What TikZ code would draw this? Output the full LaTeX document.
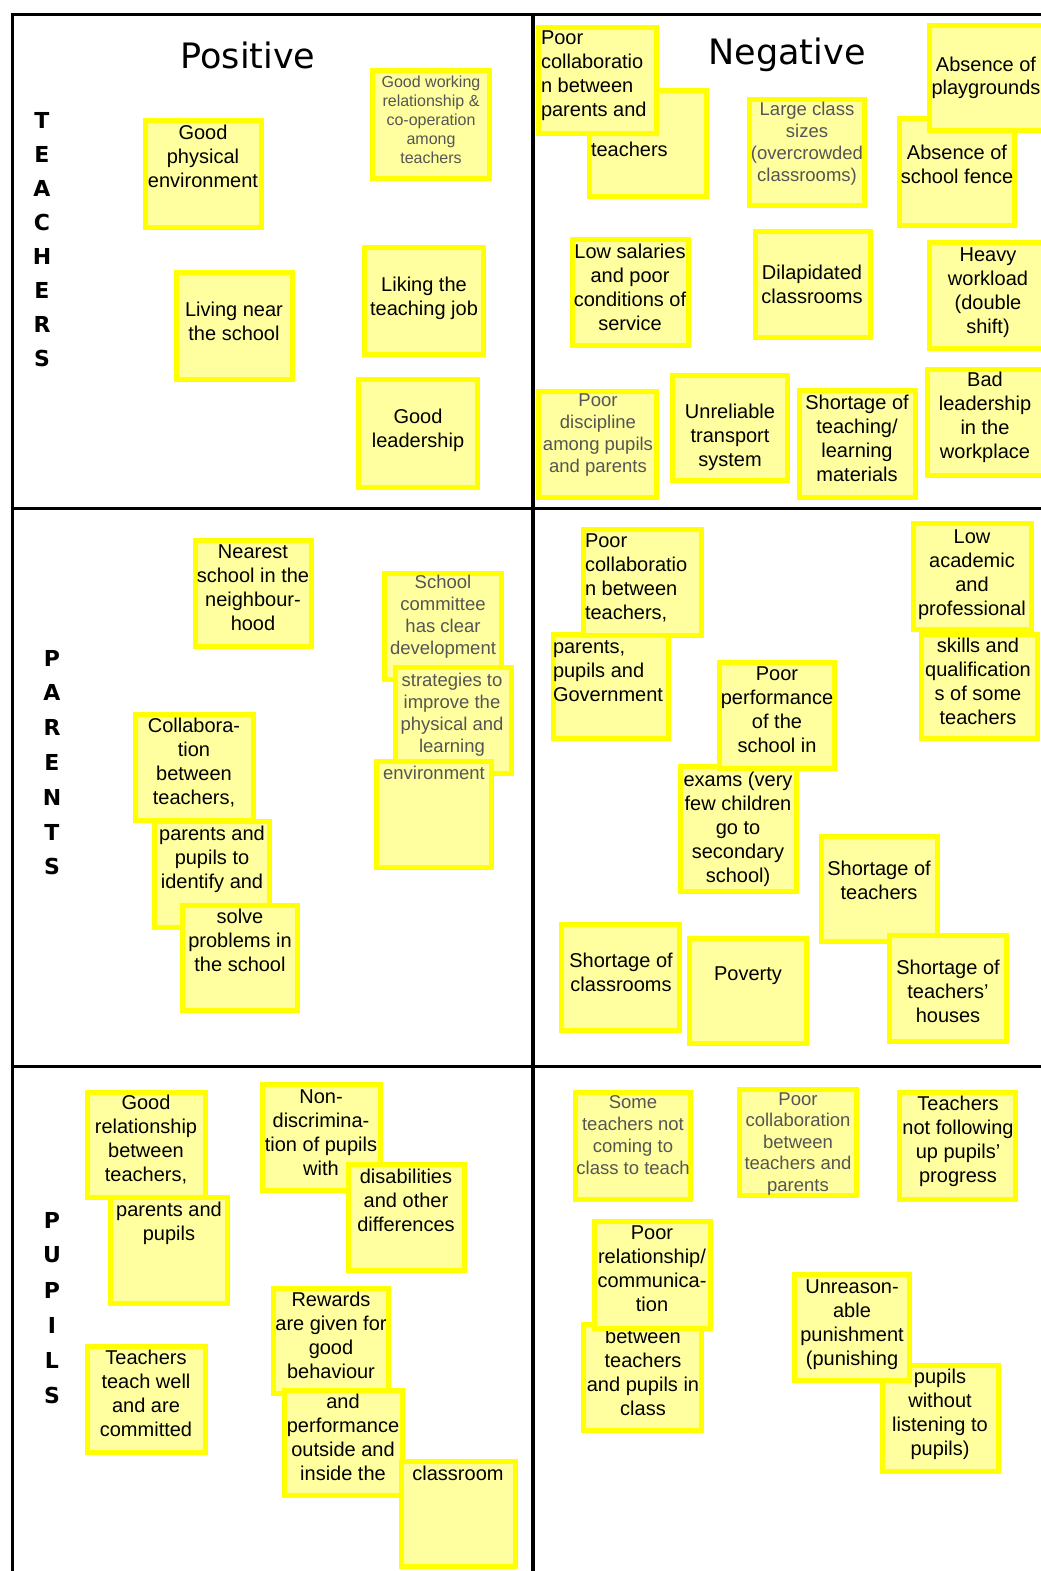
\documentclass[tikz,border=0pt]{standalone}
\usepackage{fontspec}
\setmainfont{Liberation Sans}
\newfontfamily\headfont{DejaVu Sans}

\definecolor{notefill}{RGB}{255,255,160}
\definecolor{noteedge}{RGB}{255,255,0}
\definecolor{faintink}{RGB}{85,85,85}

\tikzset{
  grid line/.style={line width=3pt, black},
  notebox/.style={draw=noteedge, fill=notefill, line width=5pt,
    inner sep=0pt, outer sep=0pt, anchor=north west},
  ntxt/.style={inner sep=0pt, outer sep=0pt, anchor=base, yshift=-6pt,
    font=\fontsize{20}{24}\selectfont},
  nleft/.style={anchor=base west},
  faint/.style={text=faintink, font=\fontsize{18.5}{22}\selectfont},
  title/.style={font=\headfont\fontsize{35}{40}\selectfont, anchor=base, inner sep=0pt},
  sideletter/.style={font=\headfont\bfseries\fontsize{22}{24}\selectfont, inner sep=0pt},
}

% sticky note: name, left, top, right, bottom (outer edges of the yellow rim)
\newcommand\notebox[5]{%
  \node[notebox, minimum width={#4-#2-5}, minimum height={#5-#3-5}] (#1) at ({#2+2.5},{#3+2.5}) {};}
% centred note text: name, extra style, centre x, first line y, lines
\newcommand\ctext[5]{%
  \node[ntxt,#2] (#1) at (#3,#4) {\parbox[t]{190pt}{\centering #5}};}
% left-aligned note text: name, extra style, left x, first line y, lines
\newcommand\ltext[5]{%
  \node[ntxt,nleft,#2] (#1) at (#3,#4) {\parbox[t]{190pt}{\raggedright #5}};}

\begin{document}
\begin{tikzpicture}[x=1pt,y=-1pt]
\useasboundingbox (0,0) rectangle (1041,1571);
\fill[white] (0,0) rectangle (1041,1571);
\clip (0,0) rectangle (1041,1571);

% frame of the 3 x 2 grid
\draw[grid line] (10.5,15) -- (1041,15);
\draw[grid line] (12,15) -- (12,1571);
\draw[grid line, line width=3.5pt] (533,15) -- (533,1571);
\draw[grid line] (12,508) -- (1041,508);
\draw[grid line] (12,1066) -- (1041,1066);

% column headings
\node[title] (pos) at (248,68) {Positive};
\node[title] (neg) at (787,65) {Negative};

% row labels, written downwards
\foreach \c [count=\i] in {T,E,A,C,H,E,R,S}
  \node[sideletter] (tch\i) at (42,{120+34*(\i-1)}) {\c};
\foreach \c [count=\i] in {P,A,R,E,N,T,S}
  \node[sideletter] (par\i) at (52,{658+34.8*(\i-1)}) {\c};
\foreach \c [count=\i] in {P,U,P,I,L,S}
  \node[sideletter] (pup\i) at (52,{1220+35*(\i-1)}) {\c};

% ---------- teachers, positive
\notebox{gpe}{143}{118}{264}{230}
\ctext{gpe-t}{}{203}{133}{Good\\physical\\environment}
\notebox{gwr}{370}{68}{492}{181}
\ctext{gwr-t}{faint, font=\fontsize{16}{18.8}\selectfont}{431}{82}{Good working\\relationship \&\\co-operation\\among\\teachers}
\notebox{lns}{174}{270}{295}{382}
\ctext{lns-t}{}{234}{310}{Living near\\the school}
\notebox{ltj}{362}{245}{486}{357}
\ctext{ltj-t}{}{424}{285}{Liking the\\teaching job}
\notebox{gl}{356}{377}{480}{490}
\ctext{gl-t}{}{418}{417}{Good\\leadership}

% ---------- teachers, negative
\notebox{pcb}{587}{88}{709}{199}
\ltext{pcb-t}{}{591}{150}{teachers}
\notebox{pca}{536}{25}{659}{136}
\ltext{pca-t}{}{541}{39}{Poor\\collaboratio\\n between\\parents and}
\notebox{lcs}{747}{97}{867}{208}
\ctext{lcs-t}{faint}{807}{109}{Large class\\sizes\\(overcrowded\\classrooms)}
\notebox{asf}{897}{116}{1017}{228}
\ctext{asf-t}{}{957}{153}{Absence of\\school fence}
\notebox{apg}{927}{23}{1048}{133}
\ctext{apg-t}{}{986}{65}{Absence of\\playgrounds}
\notebox{lsp}{570}{237}{691}{348}
\ctext{lsp-t}{}{630}{252}{Low salaries\\and poor\\conditions of\\service}
\notebox{dil}{753}{229}{873}{340}
\ctext{dil-t}{}{812}{273}{Dilapidated\\classrooms}
\notebox{hw}{927}{240}{1048}{351}
\ctext{hw-t}{}{988}{255}{Heavy\\workload\\(double\\shift)}
\notebox{pd}{536}{389}{659}{500}
\ctext{pd-t}{faint}{598}{400}{Poor\\discipline\\among pupils\\and parents}
\notebox{utr}{670}{373}{790}{483}
\ctext{utr-t}{}{730}{412}{Unreliable\\transport\\system}
\notebox{stl}{797}{388}{918}{500}
\ctext{stl-t}{}{857}{403}{Shortage of\\teaching/\\learning\\materials}
\notebox{bl}{925}{367}{1048}{478}
\ctext{bl-t}{}{985}{380}{Bad\\leadership\\in the\\workplace}

% ---------- parents, positive
\notebox{nsn}{193}{538}{314}{649}
\ctext{nsn-t}{}{253}{552}{Nearest\\school in the\\neighbour-\\hood}
\notebox{scd}{382}{571}{504}{682}
\ctext{scd-t}{faint}{443}{582}{School\\committee\\has clear\\development}
\notebox{sti}{393}{665}{514}{776}
\ctext{sti-t}{faint}{452}{680}{strategies to\\improve the\\physical and\\learning}
\notebox{env}{374}{759}{494}{870}
\ctext{env-t}{faint}{434}{773}{environment}
\notebox{ppi}{152}{819}{272}{930}
\ctext{ppi-t}{}{212}{834}{parents and\\pupils to\\identify and}
\notebox{cbt}{133}{712}{256}{823}
\ctext{cbt-t}{}{194}{726}{Collabora-\\tion\\between\\teachers,}
\notebox{spi}{180}{903}{300}{1013}
\ctext{spi-t}{}{240}{917}{solve\\problems in\\the school}

% ---------- parents, negative
\notebox{pgb}{551}{632}{671}{741}
\ltext{pgb-t}{}{553}{647}{parents,\\pupils and\\Government}
\notebox{pga}{581}{527}{704}{638}
\ltext{pga-t}{}{585}{541}{Poor\\collaboratio\\n between\\teachers,}
\notebox{sq}{919}{632}{1040}{741}
\ctext{sq-t}{}{978}{646}{skills and\\qualification\\s of some\\teachers}
\notebox{lap}{911}{521}{1034}{632}
\ctext{lap-t}{}{972}{537}{Low\\academic\\and\\professional}
\notebox{exm}{678}{764}{799}{894}
\ctext{exm-t}{}{738}{780}{exams (very\\few children\\go to\\secondary\\school)}
\notebox{pps}{717}{660}{837}{771}
\ctext{pps-t}{}{777}{674}{Poor\\performance\\of the\\school in}
\notebox{sot}{819}{834}{940}{944}
\ctext{sot-t}{}{879}{869}{Shortage of\\teachers}
\notebox{sth}{887}{933}{1009}{1044}
\ctext{sth-t}{}{948}{968}{Shortage of\\teachers'\\houses}
\notebox{soc}{559}{922}{682}{1033}
\ctext{soc-t}{}{621}{961}{Shortage of\\classrooms}
\notebox{pov}{687}{936}{809}{1046}
\ctext{pov-t}{}{748}{974}{Poverty}

% ---------- pupils, positive
\notebox{rpp}{108}{1195}{230}{1306}
\ctext{rpp-t}{}{169}{1210}{parents and\\pupils}
\notebox{grb}{85}{1090}{208}{1200}
\ctext{grb-t}{}{146}{1103}{Good\\relationship\\between\\teachers,}
\notebox{ndp}{260}{1082}{383}{1193}
\ctext{ndp-t}{}{321}{1097}{Non-\\discrimina-\\tion of pupils\\with}
\notebox{dod}{346}{1162}{467}{1273}
\ctext{dod-t}{}{406}{1177}{disabilities\\and other\\differences}
\notebox{ttw}{85}{1344}{208}{1455}
\ctext{ttw-t}{}{146}{1358}{Teachers\\teach well\\and are\\committed}
\notebox{rgb}{271}{1286}{391}{1396}
\ctext{rgb-t}{}{331}{1300}{Rewards\\are given for\\good\\behaviour}
\notebox{poi}{282}{1388}{405}{1498}
\ctext{poi-t}{}{343}{1402}{and\\performance\\outside and\\inside the}
\notebox{cls}{399}{1459}{518}{1569}
\ctext{cls-t}{}{458}{1474}{classroom}

% ---------- pupils, negative
\notebox{stn}{573}{1090}{693}{1202}
\ctext{stn-t}{faint}{633}{1102}{Some\\teachers not\\coming to\\class to teach}
\notebox{pcp}{737}{1087}{859}{1198}
\ctext{pcp-t}{faint, font=\fontsize{18.5}{21.5}\selectfont}{798}{1099}{Poor\\collaboration\\between\\teachers and\\parents}
\notebox{tnf}{897}{1090}{1018}{1202}
\ctext{tnf-t}{}{958}{1104}{Teachers\\not following\\up pupils'\\progress}
\notebox{btp}{581}{1322}{704}{1433}
\ctext{btp-t}{}{643}{1337}{between\\teachers\\and pupils in\\class}
\notebox{prc}{592}{1219}{713}{1331}
\ctext{prc-t}{}{652}{1233}{Poor\\relationship/\\communica-\\tion}
\notebox{pwl}{880}{1363}{1001}{1474}
\ctext{pwl-t}{}{940}{1377}{pupils\\without\\listening to\\pupils)}
\notebox{unp}{792}{1272}{912}{1383}
\ctext{unp-t}{}{852}{1287}{Unreason-\\able\\punishment\\(punishing}

\end{tikzpicture}
\end{document}
